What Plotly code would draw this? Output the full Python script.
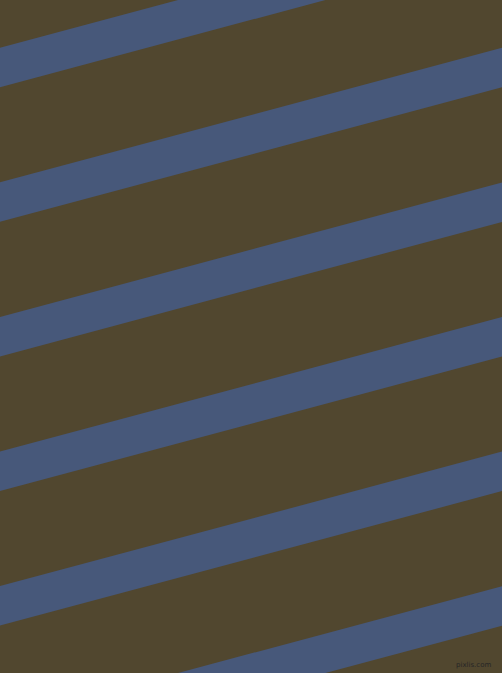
import math
import plotly.graph_objects as go

# Data: top-edge y (at x=0) of each diagonal stripe, in pixel-space units
stripe_tops = [-87.0, 47.7, 182.3, 316.9, 451.5, 586.1, 720.7]
stripe_thickness = 39.5          # vertical thickness
stripe_angle_deg = 15.0          # rising to the right

W, H = 502, 673
bg_color = "#51472F"
stripe_color = "#47587A"

slope = math.tan(math.radians(stripe_angle_deg))

fig = go.Figure()
for t in stripe_tops:
    b = t + stripe_thickness
    xs = [0, W, W, 0, 0]
    ys = [t, t - slope * W, b - slope * W, b, t]
    fig.add_trace(go.Scatter(
        x=xs, y=ys, mode="lines", fill="toself",
        fillcolor=stripe_color, line=dict(width=0, color=stripe_color),
        hoverinfo="skip", showlegend=False))

fig.add_annotation(x=W - 9, y=H - 8, xref="x", yref="y", text="pixlis.com",
                   showarrow=False, xanchor="right", yanchor="middle",
                   font=dict(family="DejaVu Sans", size=7, color="#262626"))

fig.update_xaxes(range=[0, W], visible=False, fixedrange=True)
fig.update_yaxes(range=[H, 0], visible=False, fixedrange=True)
fig.update_layout(width=W, height=H, margin=dict(l=0, r=0, t=0, b=0),
                  paper_bgcolor=bg_color, plot_bgcolor=bg_color)

fig.write_html(
    "out.html",
    config={"displayModeBar": False},
    post_script="document.body.style.margin='0';document.body.style.overflow='hidden';"
                "document.body.style.background='" + bg_color + "';",
)
